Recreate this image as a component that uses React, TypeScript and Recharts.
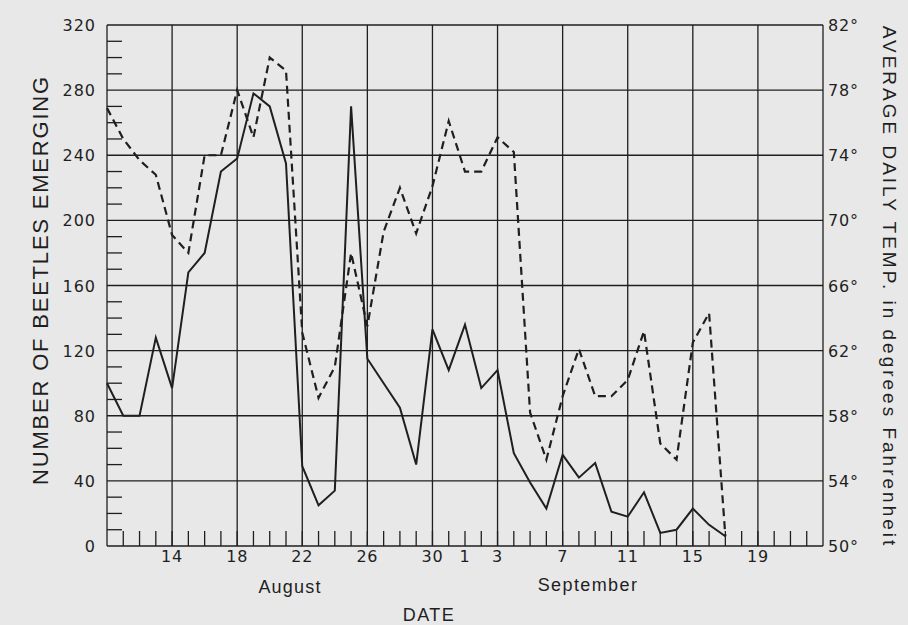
import React from 'react';
import { LineChart, Line, XAxis, YAxis, ReferenceLine } from 'recharts';

// day offset from August 10
const dayIndex = [0, 1, 2, 3, 4, 5, 6, 7, 8, 9, 10, 11, 12, 13, 14, 15, 16, 17, 18, 19, 20, 21, 22, 23, 24, 25, 26, 27, 28, 29, 30, 31, 32, 33, 34, 35, 36, 37, 38];
const beetles = [100, 80, 80, 128, 97, 168, 180, 230, 238, 278, 270, 235, 49, 25, 34, 270, 115, 100, 85, 50, 133, 108, 136, 97, 108, 57, 39, 23, 56, 42, 51, 21, 18, 33, 8, 10, 23, 13, 6];
const temps = [76.9, 75.0, 73.7, 72.8, 69.1, 68.0, 74.0, 74.0, 78.0, 75.1, 80.0, 79.2, 63.1, 59.1, 61.0, 68.0, 63.5, 69.3, 72.0, 69.2, 72.1, 76.1, 73.0, 73.0, 75.1, 74.2, 58.2, 55.3, 59.2, 62.1, 59.2, 59.2, 60.2, 63.2, 56.3, 55.3, 62.5, 64.3, 50.6];

const labelDays = [4, 8, 12, 16, 20, 22, 24, 28, 32, 36, 40];
const labelText = ['14', '18', '22', '26', '30', '1', '3', '7', '11', '15', '19'];
const gridDays = [0, 4, 8, 12, 16, 20, 24, 28, 32, 36, 40, 44];
const gridCounts = [0, 40, 80, 120, 160, 200, 240, 280, 320];
const tempTicks = [50, 54, 58, 62, 66, 70, 74, 78, 82];

const dayTicks = Array.from({ length: 43 }, (_, k) => k + 1);
const countTicks = Array.from({ length: 33 }, (_, k) => k * 10);

const data = dayIndex.map((d, k) => ({ day: d, beetles: beetles[k], temp: temps[k] }));

const INK = '#1f1f1f';
const FONT = '"DejaVu Sans", sans-serif';
const LABEL_FONT = '"Liberation Sans", sans-serif';

const XTick = (props: any) => {
  const { x, y, payload } = props;
  const k = labelDays.indexOf(payload.value);
  return (
    <g>
      <line x1={x} y1={y} x2={x} y2={y - 15} stroke={INK} strokeWidth={1.3} />
      {k >= 0 && (
        <text x={x} y={y + 16} textAnchor="middle" fontSize={16} letterSpacing={0.8} fontFamily={FONT} fill={INK}>
          {labelText[k]}
        </text>
      )}
    </g>
  );
};

const CountTick = (props: any) => {
  const { x, y, payload } = props;
  const v = payload.value;
  return (
    <g>
      {v % 40 !== 0 && <line x1={x} y1={y} x2={x + 15} y2={y} stroke={INK} strokeWidth={1.3} />}
      {v % 40 === 0 && (
        <text x={x - 11} y={y + 6} textAnchor="end" fontSize={16} letterSpacing={1} fontFamily={FONT} fill={INK}>
          {v}
        </text>
      )}
    </g>
  );
};

const TempTick = (props: any) => {
  const { x, y, payload } = props;
  return (
    <text x={x + 5} y={y + 6} textAnchor="start" fontSize={16} letterSpacing={0.8} fontFamily={FONT} fill={INK}>
      {payload.value}°
    </text>
  );
};

export default function App() {
  return (
    <div style={{ position: 'absolute', left: 0, top: 0, width: 908, height: 625, background: '#e8e8e8' }}>
      <LineChart width={908} height={625} data={data} margin={{ top: 25, right: 25, bottom: 49, left: 47 }}>
        <XAxis
          dataKey="day"
          type="number"
          domain={[0, 44]}
          ticks={dayTicks}
          interval={0}
          axisLine={false}
          tickLine={false}
          tickSize={0}
          tickMargin={0}
          height={30}
          tick={XTick}
        />
        <YAxis
          yAxisId="count"
          type="number"
          domain={[0, 320]}
          ticks={countTicks}
          interval={0}
          axisLine={false}
          tickLine={false}
          tickSize={0}
          tickMargin={0}
          width={60}
          tick={CountTick}
        />
        <YAxis
          yAxisId="temp"
          orientation="right"
          type="number"
          domain={[50, 82]}
          ticks={tempTicks}
          interval={0}
          axisLine={false}
          tickLine={false}
          tickSize={0}
          tickMargin={0}
          width={60}
          tick={TempTick}
        />
        {gridCounts.map((c) => (
          <ReferenceLine key={'h' + c} yAxisId="count" y={c} stroke={INK} strokeWidth={1.3} />
        ))}
        {gridDays.map((d) => (
          <ReferenceLine key={'v' + d} yAxisId="count" x={d} stroke={INK} strokeWidth={1.3} />
        ))}
        <Line
          yAxisId="count"
          dataKey="beetles"
          stroke={INK}
          strokeWidth={2}
          dot={false}
          isAnimationActive={false}
        />
        <Line
          yAxisId="temp"
          dataKey="temp"
          stroke={INK}
          strokeWidth={2.2}
          strokeDasharray="8 5"
          dot={false}
          isAnimationActive={false}
        />
      </LineChart>
      <svg width={908} height={625} style={{ position: 'absolute', left: 0, top: 0, pointerEvents: 'none' }}>
        <text
          transform="translate(48,280) rotate(-90)"
          textAnchor="middle"
          fontSize={22}
          letterSpacing={1.8}
          fontFamily={LABEL_FONT}
          fill={INK}
        >
          NUMBER OF BEETLES EMERGING
        </text>
        <text
          transform="translate(883,287) rotate(90)"
          textAnchor="middle"
          fontSize={19}
          letterSpacing={3}
          fontFamily={LABEL_FONT}
          fill={INK}
        >
          AVERAGE DAILY TEMP. in degrees Fahrenheit
        </text>
        <text x={290} y={593} textAnchor="middle" fontSize={18} letterSpacing={1.2} fontFamily={LABEL_FONT} fill={INK}>
          August
        </text>
        <text x={588} y={591} textAnchor="middle" fontSize={18} letterSpacing={1.4} fontFamily={LABEL_FONT} fill={INK}>
          September
        </text>
        <text x={429} y={621} textAnchor="middle" fontSize={18} letterSpacing={1.5} fontFamily={LABEL_FONT} fill={INK}>
          DATE
        </text>
      </svg>
    </div>
  );
}
